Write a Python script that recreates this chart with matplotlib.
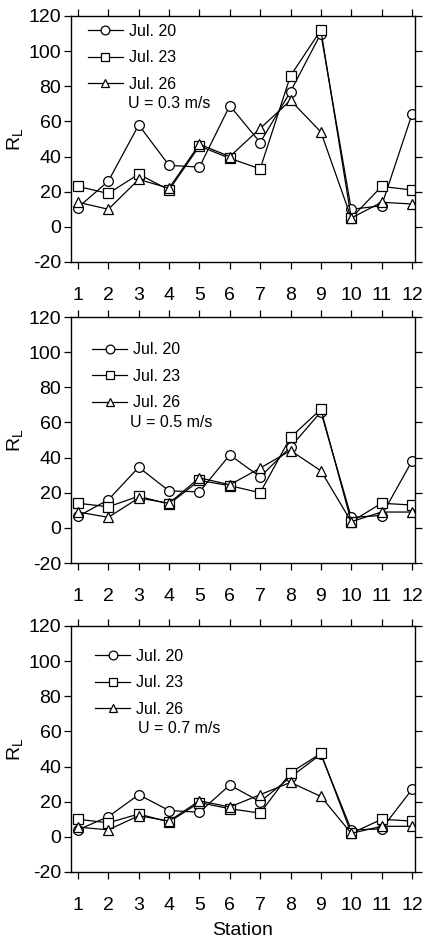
import matplotlib
matplotlib.use("Agg")
import matplotlib.pyplot as plt
import numpy as np

plt.rcParams['font.family'] = ['Liberation Sans', 'DejaVu Sans']
plt.rcParams['mathtext.fontset'] = 'custom'
plt.rcParams['mathtext.rm'] = 'Liberation Sans'
plt.rcParams['axes.unicode_minus'] = False

stations = np.arange(1, 13)
labels = ["Jul. 20", "Jul. 23", "Jul. 26"]
speeds = ["U = 0.3 m/s", "U = 0.5 m/s", "U = 0.7 m/s"]

# U = 0.3 m/s
rl_03_jul20 = [11, 26, 58, 35, 34, 69, 48, 77, 110, 10, 12, 64]
rl_03_jul23 = [23, 19, 30, 21, 46, 39, 33, 86, 112, 5, 23, 21]
rl_03_jul26 = [14, 10, 27, 22, 47, 40, 56, 72, 54, 5, 14, 13]
# U = 0.5 m/s
rl_05_jul20 = [6.5, 16, 34.5, 21, 20.5, 41.5, 29, 46, 66, 6, 7, 38]
rl_05_jul23 = [14, 12, 18, 13.5, 27, 24, 20, 51.5, 67.5, 3.5, 14, 13]
rl_05_jul26 = [9, 6, 17, 14, 28.5, 24.5, 34, 44, 32.5, 3.5, 9, 9]
# U = 0.7 m/s
rl_07_jul20 = [4, 11.5, 24, 15, 14, 29.5, 20, 34, 47, 4, 4.5, 27]
rl_07_jul23 = [10, 8, 13, 8.5, 19.5, 16, 13.5, 36.5, 47.5, 2, 10, 9]
rl_07_jul26 = [5.5, 4, 12, 9, 20.5, 17, 24, 31, 23, 2, 6, 6]

panels = [
    (rl_03_jul20, rl_03_jul23, rl_03_jul26),
    (rl_05_jul20, rl_05_jul23, rl_05_jul26),
    (rl_07_jul20, rl_07_jul23, rl_07_jul26),
]
markers = ['o', 's', '^']
msizes = [7, 6.5, 7]

fig = plt.figure(figsize=(4.25, 9.42), dpi=100)
left, width = 71 / 425, 344 / 425
tops = [16, 317, 626]
h = 246

# legend / annotation placement per panel (axes fraction)
leg_x = [0.049, 0.061, 0.070]
leg_y = [0.968, 0.898, 0.907]
u_x = [0.166, 0.172, 0.196]
u_y = [0.643, 0.570, 0.582]

for i, series in enumerate(panels):
    ax = fig.add_axes([left, 1 - (tops[i] + h) / 942, width, h / 942])
    for vals, m, ms, lab in zip(series, markers, msizes, labels):
        ax.plot(stations, vals, color='black', lw=0.9, marker=m, ms=ms,
                mfc='white', mec='black', mew=0.9, label=lab)
    ax.set_xlim(0.77, 12.1)
    ax.set_ylim(-20, 120)
    ax.set_xticks(stations)
    ax.set_yticks(np.arange(-20, 121, 20))
    ax.tick_params(direction='out', length=5, width=0.9, labelsize=14,
                   top=True, right=True)
    ax.tick_params(axis='x', pad=13)
    ax.tick_params(axis='y', pad=2)
    for s in ax.spines.values():
        s.set_linewidth(1.0)
    ax.set_ylabel(r'R$_{\mathrm{L}}$', fontsize=14, labelpad=2)
    ax.legend(loc='upper left', bbox_to_anchor=(leg_x[i], leg_y[i]), frameon=False,
              fontsize=11.5, handlelength=2.2, handletextpad=0.35,
              labelspacing=0.72, borderpad=0, borderaxespad=0, markerscale=0.9)
    ax.text(u_x[i], u_y[i], speeds[i], transform=ax.transAxes, fontsize=11.5,
            va='center', ha='left')

ax.set_xlabel('Station', fontsize=14, labelpad=6)

fig.savefig('out.png', dpi=100)
